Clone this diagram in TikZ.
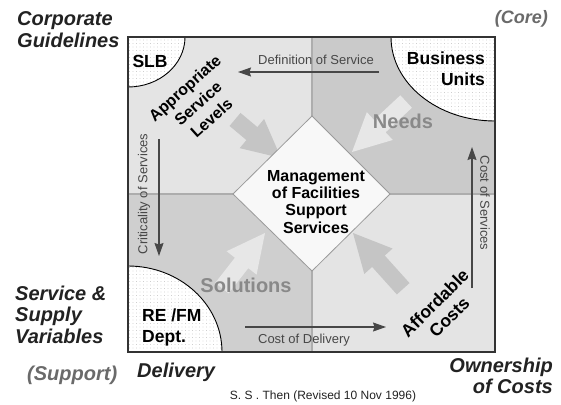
\documentclass[tikz,border=0pt]{standalone}
\usepackage{fontspec}
\setmainfont{Liberation Sans}
\usetikzlibrary{arrows.meta, patterns.meta}

\definecolor{txtdark}{HTML}{222222}
\definecolor{softgray}{HTML}{6A6A6A}
\definecolor{quadlight}{HTML}{E4E4E4}
\definecolor{quaddark}{HTML}{CACACA}
\definecolor{quadmid}{HTML}{CFCFCF}
\definecolor{divider}{HTML}{ADADAD}
\definecolor{blocklight}{HTML}{E7E7E7}
\definecolor{blockdark}{HTML}{C5C5C5}
\definecolor{wordgray}{HTML}{898989}
\definecolor{arrowgray}{HTML}{474747}
\definecolor{dotgray}{HTML}{B5B5B5}
\definecolor{framegray}{HTML}{333333}
\definecolor{diamondfill}{HTML}{F8F8F8}
\definecolor{diamondedge}{HTML}{9A9A9A}

\tikzset{
  quadline/.style={draw=divider, line width=2.5pt},
  corner/.style={preaction={fill=white}, pattern={Dots[distance=3.5pt, radius=0.45pt]},
    pattern color=dotgray, draw=black, line width=0.9pt},
  flow/.style={draw=arrowgray, line width=1.2pt, -{Stealth[length=13pt, width=9pt, inset=1.5pt]}},
  flowlabel/.style={text=arrowgray, font=\fontsize{13}{15}\selectfont, inner sep=0pt},
  outer/.style={text=txtdark, font=\fontsize{20}{22}\selectfont\bfseries\itshape, inner sep=0pt},
  boxlabel/.style={text=black, font=\fontsize{17.5}{20.5}\selectfont\bfseries, inner sep=0pt},
  bigword/.style={text=wordgray, font=\fontsize{20}{24}\selectfont\bfseries, inner sep=0pt},
}

% tip, angle, length, colour
\newcommand{\blockarrow}[4]{%
  \fill[#4, shift={#1}, rotate=#2] (0,0) -- (-38,-19) -- (-38,-8.5) -- (-#3,-8.5)
    -- (-#3,8.5) -- (-38,8.5) -- (-38,19) -- cycle;}

\begin{document}
\begin{tikzpicture}[x=1pt, y=-1pt]
\useasboundingbox (0,0) rectangle (561,404);

%% quadrants
\fill[quadlight] (128,37) rectangle (312,194);
\fill[quaddark] (312,37) rectangle (495,194);
\fill[quadmid] (128,194) rectangle (312,352);
\fill[quadlight] (312,194) rectangle (495,352);
\draw[quadline] (312,37) -- (312,352);
\draw[quadline] (128,194) -- (495,194);

%% block arrows
\blockarrow{(281,158)}{-40}{60}{blockdark}
\blockarrow{(352,152)}{-137}{74}{blocklight}
\blockarrow{(265,233)}{52}{70}{blocklight}
\blockarrow{(353,233)}{132}{75}{blockdark}

%% centre
\draw[draw=diamondedge, fill=diamondfill, line width=0.8pt]
  (312,116) -- (390,194) -- (312,271) -- (233,194) -- cycle;
\node (mgmt) [boxlabel, font=\fontsize{16}{17.2}\selectfont\bfseries, align=center, anchor=base]
  at (316,233) {Management\\of Facilities\\Support\\Services};

%% corners
\path[corner] (128,37) -- (185,37) arc[start angle=0, end angle=90, x radius=57, y radius=50] -- cycle;
\path[corner] (495,37) -- (391,37) arc[start angle=180, end angle=90, x radius=104, y radius=84] -- cycle;
\path[corner] (128,352) -- (128,266) arc[start angle=270, end angle=360, x radius=94, y radius=86] -- cycle;

%% frame
\draw[draw=framegray, line width=2pt] (128,37) rectangle (495,352);

%% flows
\coordinate (defStart) at (379,72);
\coordinate (defEnd) at (238,72);
\draw[flow] (defStart) -- (defEnd);
\node (defLabel) [flowlabel] at (316,60) {Definition of Service};

\coordinate (critStart) at (159,139);
\coordinate (critEnd) at (159,256);
\draw[flow] (critStart) -- (critEnd);
\node (critLabel) [flowlabel, rotate=90] at (144,194) {Criticality of Services};

\coordinate (delStart) at (245,327);
\coordinate (delEnd) at (386,327);
\draw[flow] (delStart) -- (delEnd);
\node (delLabel) [flowlabel] at (304,340) {Cost of Delivery};

\coordinate (servStart) at (472,288);
\coordinate (servEnd) at (472,147);
\draw[flow] (servStart) -- (servEnd);
\node (servLabel) [flowlabel, rotate=-90] at (485,203) {Cost of Services};

%% labels inside
\node (slb) [boxlabel] at (150,61) {SLB};
\node (units) [boxlabel, align=right, anchor=base east] at (485,85) {Business\\Units};
\node (refm) [boxlabel, align=left, anchor=base west] at (142,342) {RE /FM\\Dept.};
\node (levels) [boxlabel, font=\fontsize{16}{20}\selectfont\bfseries, align=center, rotate=42]
  at (198,103) {Appropriate\\Service\\Levels};
\node (costs) [boxlabel, align=center, rotate=45] at (442,310) {Affordable\\Costs};
\node (needs) [bigword] at (403,121) {Needs};
\node (solutions) [bigword] at (246,285) {Solutions};

%% labels outside
\node (corporate) [outer, align=left, anchor=base west] at (17,48) {Corporate\\Guidelines};
\node (core) [outer, text=softgray, font=\fontsize{18}{20}\selectfont\bfseries\itshape, anchor=base east]
  at (548,24) {(Core)};
\node (supply) [outer, font=\fontsize{20}{21.5}\selectfont\bfseries\itshape, align=left, anchor=base west]
  at (15,343) {Service \&\\Supply\\Variables};
\node (support) [outer, text=softgray, anchor=base west] at (27,380) {(Support)};
\node (delivery) [outer, anchor=base west] at (137,377) {Delivery};
\node (ownership) [outer, font=\fontsize{20}{20.5}\selectfont\bfseries\itshape, align=right, anchor=base east]
  at (553,393) {Ownership\\of Costs};
\node (credit) [text=txtdark, font=\fontsize{12}{14}\selectfont, inner sep=0pt, anchor=base]
  at (323,399) {S. S . Then (Revised 10 Nov 1996)};

\end{tikzpicture}
\end{document}
